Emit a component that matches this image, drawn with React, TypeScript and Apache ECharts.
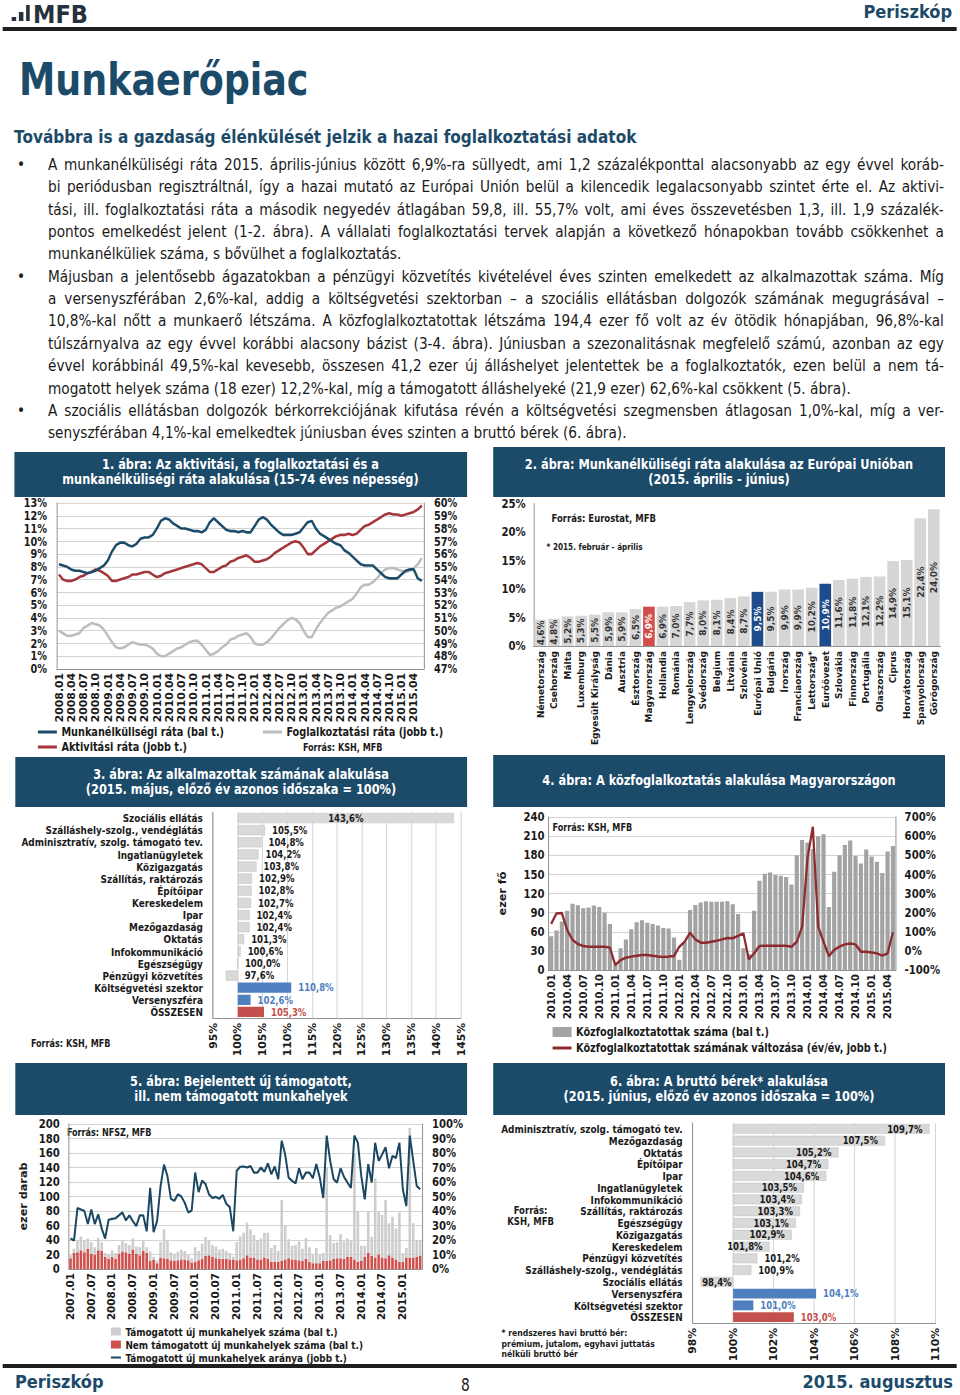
import React, { useEffect, useRef } from 'react';
import * as echarts from 'echarts';

// ---------------- data ----------------
// Chart 1: monthly, 2008.01 - 2015.06 (3-month averages, %)
const UNEMPLOYMENT = [
  8.2, 8.1, 8.0, 7.8, 7.7, 7.7, 7.6, 7.5, 7.6, 7.7,
  7.9, 8.1, 8.5, 9.2, 9.7, 9.9, 9.9, 9.7, 9.6, 9.8,
  10.2, 10.3, 10.3, 10.5, 11.0, 11.6, 11.8, 11.7, 11.4, 11.2,
  11.0, 11.0, 10.9, 10.8, 10.8, 10.7, 10.9, 11.5, 11.8, 11.5,
  11.2, 10.9, 10.8, 10.8, 10.7, 10.8, 10.7, 10.7, 11.2, 11.7,
  11.9, 11.7, 11.3, 11.0, 10.7, 10.5, 10.5, 10.5, 10.6, 10.7,
  11.1, 11.5, 11.6, 11.0, 10.6, 10.4, 10.2, 10.0, 9.8, 9.7,
  9.3, 9.1, 8.8, 8.5, 8.2, 8.1, 8.1, 8.1, 7.8, 7.5,
  7.2, 7.1, 7.1, 7.1, 7.4, 7.7, 7.8, 7.8, 7.1, 6.9,
];
const ACTIVITY = [
  54.4, 54.0, 53.9, 53.9, 54.0, 54.2, 54.3, 54.5, 54.6, 54.8,
  54.7, 54.5, 54.3, 53.9, 53.9, 54.0, 54.1, 54.2, 54.4, 54.4,
  54.5, 54.6, 54.6, 54.4, 54.2, 54.3, 54.5, 54.6, 54.7, 54.8,
  54.9, 55.0, 55.1, 55.2, 55.3, 55.2, 54.9, 54.6, 54.6, 54.8,
  55.0, 55.1, 55.4, 55.5, 55.7, 55.8, 55.9, 55.7, 55.4, 55.4,
  55.5, 55.6, 55.8, 56.1, 56.3, 56.5, 56.7, 56.9, 57.0, 56.9,
  56.5, 56.0, 56.0, 56.3, 56.6, 56.8, 57.0, 57.2, 57.4, 57.5,
  57.5, 57.6, 57.5, 57.6, 57.9, 58.2, 58.3, 58.5, 58.7, 58.9,
  59.1, 59.2, 59.1, 59.1, 59.0, 59.1, 59.2, 59.3, 59.5, 59.8,
];
const EMPLOYMENT = [
  50.0, 49.8, 49.6, 49.6, 49.7, 49.8, 50.2, 50.4, 50.6, 50.5,
  50.4, 50.1, 49.6, 49.1, 48.7, 48.6, 48.7, 48.9, 49.1, 49.0,
  48.9, 48.9, 48.8, 48.6, 48.2, 48.0, 48.0, 48.2, 48.4, 48.6,
  48.7, 48.9, 49.1, 49.2, 49.2, 48.9, 48.5, 48.1, 48.2, 48.4,
  48.7, 48.9, 49.3, 49.4, 49.6, 49.7, 49.8, 49.5, 49.0, 48.9,
  48.9, 49.1, 49.4, 49.8, 50.2, 50.5, 50.8, 51.0, 50.9, 50.6,
  50.0, 49.5, 49.5, 50.1, 50.6, 51.0, 51.4, 51.6, 51.8, 51.9,
  52.1, 52.3, 52.5, 52.9, 53.4, 53.6, 53.6, 53.8, 54.1, 54.5,
  54.8, 54.9, 54.9, 54.8, 54.7, 54.6, 54.7, 54.9, 55.2, 55.7,
];

// Chart 2
const EU_COUNTRIES = [
  'Németország', 'Csehország', 'Málta', 'Luxemburg', 'Egyesült Királyság', 'Dánia', 'Ausztria',
  'Észtország', 'Magyarország', 'Hollandia', 'Románia', 'Lengyelország', 'Svédország', 'Belgium',
  'Litvánia', 'Szlovénia', 'Európai Unió', 'Bulgária', 'Írország', 'Franciaország', 'Lettország*',
  'Euróövezet', 'Szlovákia', 'Finnország', 'Portugália', 'Olaszország', 'Ciprus', 'Horvátország',
  'Spanyolország', 'Görögország',
];
const EU_RATES = [
  4.6, 4.8, 5.2, 5.3, 5.5, 5.9, 5.9, 6.5, 6.9, 6.9, 7.0, 7.7, 8.0, 8.1, 8.4,
  8.7, 9.5, 9.5, 9.9, 9.9, 10.2, 10.9, 11.6, 11.8, 12.1, 12.2, 14.9, 15.1, 22.4, 24.0,
];
const EU_RED = ['Magyarország'];
const EU_BLUE = ['Európai Unió', 'Euróövezet'];

// Chart 3
const EMP_SECTORS = [
  'Szociális ellátás', 'Szálláshely-szolg., vendéglátás', 'Adminisztratív, szolg. támogató tev.',
  'Ingatlanügyletek', 'Közigazgatás', 'Szállítás, raktározás', 'Építőipar', 'Kereskedelem', 'Ipar',
  'Mezőgazdaság', 'Oktatás', 'Infokommunikáció', 'Egészségügy', 'Pénzügyi közvetítés',
  'Költségvetési szektor', 'Versenyszféra', 'ÖSSZESEN',
];
const EMP_INDEX = [
  143.6, 105.5, 104.8, 104.2, 103.8, 102.9, 102.8, 102.7, 102.4, 102.4, 101.3, 100.6, 100.0, 97.6,
  110.8, 102.6, 105.3,
];

// Chart 4: monthly 2010.01 - 2015.05
const PW_COUNT = [
  53, 62, 76, 93, 104, 101.5, 97, 98, 101, 99,
  90, 72, 8, 34, 48, 64, 75, 78, 74, 72,
  70, 66, 65, 51, 16, 44, 94, 102, 106, 108,
  107, 107, 107, 108, 103, 88, 34, 25, 93, 140,
  151, 153, 149, 148, 146, 134, 180, 204, 200, 190,
  210, 213, 99, 154, 180, 196, 203, 179, 167, 189,
  178, 170, 152, 186, 194.4,
];
const PW_CHANGE = [
  141, 196, 198, 109, 57, 36, 25, 22, 22, 22,
  22, 17, -74, -48, -36, -30, -25, -22, -22, -25,
  -29, -32, -30, -27, 22, 48, 95, 60, 43, 43,
  48, 53, 60, 67, 66, 78, 92, -44, -13, 25,
  27, 27, 27, 27, 27, 22, 48, 127, 484, 649,
  127, 48, -27, 5, 22, 34, 39, 34, -4, -4,
  -8, -13, -25, -13, 96.8,
];

// Chart 5: monthly 2007.01 - 2015.06 (thousand, %)
const JOBS_SUPPORTED = [
  4, 6, 17, 19, 16, 14, 16, 10, 17, 12, 5, 6,
  9, 8, 12, 15, 13, 12, 15, 10, 11, 14, 8, 13,
  4, 4, 21, 40, 26, 11, 10, 12, 14, 12, 8, 6,
  20, 13, 21, 26, 21, 16, 16, 13, 14, 11, 9, 4,
  25, 32, 35, 45, 39, 31, 27, 29, 34, 36, 19, 23,
  15, 84, 47, 26, 19, 20, 26, 17, 29, 20, 13, 21,
  12, 11, 129, 35, 22, 22, 33, 24, 25, 22, 147, 70,
  21, 15, 58, 26, 109, 60, 59, 80, 44, 56, 43, 68,
  12, 13, 179, 47, 23, 22,
];
const JOBS_UNSUPPORTED = [
  15, 22, 23, 26, 23, 28, 21, 20, 26, 25, 17, 14,
  17, 14, 21, 24, 23, 21, 27, 21, 19, 25, 22, 11,
  13, 8, 16, 15, 14, 12, 11, 12, 13, 13, 12, 9,
  10, 12, 14, 18, 19, 17, 15, 14, 14, 14, 13, 13,
  12, 13, 15, 19, 16, 16, 13, 13, 16, 14, 10, 10,
  10, 11, 13, 15, 13, 13, 12, 11, 14, 10, 8, 8,
  8, 11, 11, 12, 14, 15, 15, 14, 17, 17, 13, 10,
  11, 17, 22, 18, 16, 20, 16, 15, 19, 16, 13, 10,
  10, 16, 16, 16, 17, 18,
];
const JOBS_SUPPORTED_SHARE = [
  21, 19.6, 42, 41, 40, 31, 41, 31, 37.7, 28, 21, 34,
  34.6, 35, 37, 39, 33.5, 37, 33, 29.6, 37, 37, 26, 56,
  25.4, 33, 57, 72, 64, 48.5, 47, 51.5, 50, 45.7, 39, 40.4,
  66.5, 53, 61, 58.5, 51.5, 49, 49.7, 48.5, 51, 45, 42.7, 26,
  67.7, 70.5, 70.7, 70, 71, 66.5, 66.5, 70, 67, 72.8, 65.4, 70.7,
  62, 88.5, 79, 63, 60.8, 59, 69.5, 62, 66.5, 66.5, 62.6, 72.3,
  63, 49, 92, 74.6, 62, 59.6, 69.5, 63.5, 59.6, 56, 92, 87,
  64, 48, 72.3, 59.6, 87, 74.6, 79, 84, 69.5, 78, 76.5, 87,
  55, 43.4, 92, 74.6, 57.3, 55,
];

// Chart 6
const WAGE_SECTORS = [
  'Adminisztratív, szolg. támogató tev.', 'Mezőgazdaság', 'Oktatás', 'Építőipar', 'Ipar',
  'Ingatlanügyletek', 'Infokommunikáció', 'Szállítás, raktározás', 'Egészségügy', 'Közigazgatás',
  'Kereskedelem', 'Pénzügyi közvetítés', 'Szálláshely-szolg., vendéglátás', 'Szociális ellátás',
  'Versenyszféra', 'Költségvetési szektor', 'ÖSSZESEN',
];
const WAGE_INDEX = [
  109.7, 107.5, 105.2, 104.7, 104.6, 103.5, 103.4, 103.3, 103.1, 102.9, 101.8, 101.2, 100.9, 98.4,
  104.1, 101.0, 103.0,
];

const SECTOR_BLUE = ['Költségvetési szektor', 'Versenyszféra'];
const SECTOR_RED = ['ÖSSZESEN'];

function months(y0: number, m0: number, n: number): string[] {
  const out: string[] = [];
  for (let i = 0; i < n; i++) {
    const t = m0 - 1 + i;
    out.push(`${y0 + Math.floor(t / 12)}.${String((t % 12) + 1).padStart(2, '0')}`);
  }
  return out;
}
const MONTHS_1 = months(2008, 1, UNEMPLOYMENT.length);
const MONTHS_4 = months(2010, 1, PW_COUNT.length);
const MONTHS_5 = months(2007, 1, JOBS_SUPPORTED.length);

// ---------------- styling helpers ----------------
const S = 0.9; // horizontal squeeze of the whole page
const P = (v: number) => v / S;
const FONT = "'DejaVu Sans Condensed', 'DejaVu Sans', sans-serif";
const FONT_WIDE = "'DejaVu Sans', sans-serif";
const INK = '#1a1a1a';
const NAVY = '#1c4a69';
const AXIS = '#8c8c8c';
const GRIDC = '#d2d2d2';
const BAR_BLUE = '#4f7fbf';
const BAR_RED = '#c4504d';

const lab = (size: number, extra: any = {}) => ({
  fontFamily: FONT, fontWeight: 'bold', fontSize: size, color: INK, ...extra,
});
const pct = (v: number) => v.toFixed(1).replace('.', ',') + '%';
const gtext = (x: number, y: number, text: string, size: number, align = 'left') => ({
  type: 'text', x, y, silent: true,
  style: { text, fill: INK, fontFamily: FONT, fontWeight: 'bold', fontSize: size, align, verticalAlign: 'middle' },
});
const valueLabel = (extra: any = {}) =>
  lab(12.5, { showMinLabel: true, showMaxLabel: true, hideOverlap: false, ...extra });

// ---------------- chart options ----------------
const N_U = 'Munkanélküliségi ráta (bal t.)';
const N_A = 'Aktivitási ráta (jobb t.)';
const N_E = 'Foglalkoztatási ráta (jobb t.)';

const lineLegend = (names: string[], left: number, top: number, size = 12) => ({
  data: names, orient: 'vertical', left, top, padding: 0, itemGap: 1,
  itemWidth: P(19), itemHeight: 3, icon: 'rect', textStyle: lab(size, { lineHeight: 14 }),
});

const opt1 = {
  animation: false,
  grid: { left: P(47), top: 6, width: P(367), height: 166 },
  legend: [lineLegend([N_U, N_A], P(28), 228), lineLegend([N_E], P(253), 228)],
  xAxis: {
    type: 'category', data: MONTHS_1,
    axisLabel: lab(12, { rotate: 90, interval: 2, margin: 4 }),
    axisTick: { show: false }, axisLine: { lineStyle: { color: AXIS } },
  },
  yAxis: [
    { type: 'value', min: 0, max: 13, interval: 1,
      axisLabel: valueLabel({ formatter: '{value}%', margin: P(10), fontSize: 12, lineHeight: 10 }),
      splitLine: { lineStyle: { color: GRIDC } }, axisLine: { show: true, lineStyle: { color: AXIS } } },
    { type: 'value', min: 47, max: 60, interval: 1, position: 'right',
      axisLabel: valueLabel({ formatter: '{value}%', margin: P(10), fontSize: 12, lineHeight: 10 }),
      splitLine: { show: false }, axisLine: { show: true, lineStyle: { color: AXIS } } },
  ],
  series: [
    { name: N_E, type: 'line', yAxisIndex: 1, data: EMPLOYMENT, symbol: 'none',
      lineStyle: { color: '#bdbdbd', width: 2.6 }, itemStyle: { color: '#bdbdbd' } },
    { name: N_A, type: 'line', yAxisIndex: 1, data: ACTIVITY, symbol: 'none',
      lineStyle: { color: '#a3363a', width: 2.6 }, itemStyle: { color: '#a3363a' } },
    { name: N_U, type: 'line', yAxisIndex: 0, data: UNEMPLOYMENT, symbol: 'none',
      lineStyle: { color: '#1d4c6b', width: 2.6 }, itemStyle: { color: '#1d4c6b' } },
  ],
  graphic: [gtext(P(293), 250, 'Forrás: KSH, MFB', 10)],
};

const opt2 = {
  animation: false,
  grid: { left: P(44), top: 6, width: P(407), height: 143 },
  xAxis: {
    type: 'category', data: EU_COUNTRIES,
    axisLabel: lab(10, { rotate: 90, interval: 0, margin: 5 }),
    axisTick: { show: false }, axisLine: { lineStyle: { color: AXIS } },
  },
  yAxis: {
    type: 'value', min: 0, max: 25, interval: 5,
    axisLabel: valueLabel({ formatter: '{value}%', margin: P(8) }),
    splitLine: { show: false }, axisLine: { show: true, lineStyle: { color: AXIS } },
  },
  series: [{
    type: 'bar', barCategoryGap: '14%',
    data: EU_RATES.map((v, i) => {
      const name = EU_COUNTRIES[i];
      const c = EU_RED.includes(name) ? '#d24e4a' : EU_BLUE.includes(name) ? '#1f4c8a' : '#d6d6d6';
      const lc = c === '#d6d6d6' ? '#333333' : '#ffffff';
      return { value: v, itemStyle: { color: c }, label: { color: lc } };
    }),
    label: { show: true, position: 'inside', rotate: 90, formatter: (p: any) => pct(p.value), ...lab(10) },
  }],
  graphic: [
    gtext(P(62), 21, 'Forrás: Eurostat, MFB', 10.5),
    gtext(P(57), 50, '* 2015. február - április', 9),
  ],
};

function sectorBars(names: string[], values: number[], labelPos: (v: number, colored: boolean) => string) {
  const col = (n: string) => (SECTOR_BLUE.includes(n) ? BAR_BLUE : SECTOR_RED.includes(n) ? BAR_RED : '#d9d9d9');
  return [
    { type: 'bar', stack: 't', silent: true, barCategoryGap: '16%',
      data: values.map((v) => Math.min(v, 100)), itemStyle: { color: 'rgba(0,0,0,0)' } },
    { type: 'bar', stack: 't', barCategoryGap: '16%',
      data: values.map((v, i) => {
        const c = col(names[i]);
        const colored = c !== '#d9d9d9';
        return {
          value: Math.abs(v - 100),
          itemStyle: colored ? { color: c } : { color: c, borderColor: '#c2c2c2', borderWidth: 0.6 },
          label: { position: labelPos(v, colored), color: colored ? c : INK },
        };
      }),
      label: { show: true, distance: P(7), formatter: (p: any) => pct(values[p.dataIndex]), ...lab(10.5) } },
  ];
}

const sectorYAxis = (names: string[]) => ({
  type: 'category', data: names, inverse: true,
  axisLabel: lab(11, { margin: P(10), interval: 0 }), axisTick: { show: false },
  axisLine: { show: true, lineStyle: { color: AXIS } },
});

const opt3 = {
  animation: false,
  grid: { left: P(203), top: 5, width: P(248), height: 206 },
  xAxis: {
    type: 'value', min: 95, max: 145, interval: 5,
    axisLabel: lab(12, { rotate: 90, formatter: '{value}%', margin: 5, showMinLabel: true, showMaxLabel: true }),
    splitLine: { lineStyle: { color: GRIDC } }, axisLine: { show: true, lineStyle: { color: AXIS } },
    axisTick: { show: false },
  },
  yAxis: sectorYAxis(EMP_SECTORS),
  series: sectorBars(EMP_SECTORS, EMP_INDEX, (v) => (v > 120 ? 'inside' : 'right')),
  graphic: [gtext(P(21), 236, 'Forrás: KSH, MFB', 10)],
};

const N_PW = 'Közfoglalkoztatottak száma (bal t.)';
const N_PWC = 'Közfoglalkoztatottak számának változása (év/év, jobb t.)';
const opt4 = {
  animation: false,
  grid: { left: P(53), top: 10, width: P(353), height: 153 },
  legend: [
    { data: [N_PW], orient: 'vertical', left: P(63), top: 218, padding: 0,
      itemWidth: P(19), itemHeight: 10, icon: 'rect', textStyle: lab(12, { lineHeight: 14 }) },
    { data: [N_PWC], orient: 'vertical', left: P(63), top: 234, padding: 0,
      itemWidth: P(19), itemHeight: 3, icon: 'rect', textStyle: lab(12, { lineHeight: 14 }) },
  ],
  xAxis: {
    type: 'category', data: MONTHS_4,
    axisLabel: lab(11, { rotate: 90, interval: 2, margin: 4 }),
    axisTick: { show: false }, axisLine: { lineStyle: { color: AXIS } },
  },
  yAxis: [
    { type: 'value', min: 0, max: 240, interval: 30,
      name: 'ezer fő', nameLocation: 'middle', nameGap: P(40), nameTextStyle: lab(12.5),
      axisLabel: valueLabel({ margin: P(4) }),
      splitLine: { lineStyle: { color: GRIDC } }, axisLine: { show: true, lineStyle: { color: AXIS } } },
    { type: 'value', min: -100, max: 700, interval: 100, position: 'right',
      axisLabel: valueLabel({ formatter: '{value}%', margin: P(9) }),
      splitLine: { show: false }, axisLine: { show: true, lineStyle: { color: AXIS } } },
  ],
  series: [
    { name: N_PW, type: 'bar', data: PW_COUNT, barCategoryGap: '22%', itemStyle: { color: '#a3a3a3' } },
    { name: N_PWC, type: 'line', yAxisIndex: 1, data: PW_CHANGE, symbol: 'none',
      lineStyle: { color: '#8e2b2f', width: 2.5 }, itemStyle: { color: '#8e2b2f' } },
  ],
  graphic: [gtext(P(63), 20, 'Forrás: KSH, MFB', 10)],
};

const N_S = 'Támogatott új munkahelyek száma (bal t.)';
const N_N = 'Nem támogatott új munkahelyek száma (bal t.)';
const N_R = 'Támogatott új munkahelyek aránya (jobb t.)';
const opt5 = {
  animation: false,
  grid: { left: P(53), top: 9, width: P(359), height: 145 },
  legend: [
    { data: [N_S, N_N], orient: 'vertical', left: P(101), top: 210, padding: 0, itemGap: 0,
      itemWidth: P(10), itemHeight: 8, icon: 'rect', textStyle: lab(11, { lineHeight: 13 }) },
    { data: [N_R], orient: 'vertical', left: P(101), top: 236, padding: 0,
      itemWidth: P(10), itemHeight: 2, icon: 'rect', textStyle: lab(11, { lineHeight: 13 }) },
  ],
  xAxis: {
    type: 'category', data: MONTHS_5,
    axisLabel: lab(11.5, { rotate: 90, interval: 5, margin: 4 }),
    axisTick: { show: false }, axisLine: { lineStyle: { color: AXIS } },
  },
  yAxis: [
    { type: 'value', min: 0, max: 200, interval: 20,
      name: 'ezer darab', nameLocation: 'middle', nameGap: P(40), nameTextStyle: lab(12.5),
      axisLabel: valueLabel({ margin: P(9) }),
      splitLine: { lineStyle: { color: GRIDC } }, axisLine: { show: true, lineStyle: { color: AXIS } } },
    { type: 'value', min: 0, max: 100, interval: 10, position: 'right',
      axisLabel: valueLabel({ formatter: '{value}%', margin: P(10) }),
      splitLine: { show: false }, axisLine: { show: true, lineStyle: { color: AXIS } } },
  ],
  series: [
    { name: N_N, type: 'bar', stack: 'j', data: JOBS_UNSUPPORTED, barCategoryGap: '25%', itemStyle: { color: '#d0504d' } },
    { name: N_S, type: 'bar', stack: 'j', data: JOBS_SUPPORTED, barCategoryGap: '25%', itemStyle: { color: '#cdcdcd' } },
    { name: N_R, type: 'line', yAxisIndex: 1, data: JOBS_SUPPORTED_SHARE, symbol: 'none',
      lineStyle: { color: '#1b4763', width: 2.2 }, itemStyle: { color: '#1b4763' } },
  ],
  graphic: [gtext(P(57), 17, 'Forrás: NFSZ, MFB', 10)],
};

const opt6 = {
  animation: false,
  grid: { left: P(203), top: 8, width: P(243), height: 200 },
  xAxis: {
    type: 'value', min: 98, max: 110, interval: 2,
    axisLabel: lab(12, { rotate: 90, formatter: '{value}%', margin: 5, showMinLabel: true, showMaxLabel: true }),
    splitLine: { lineStyle: { color: GRIDC } }, axisLine: { show: true, lineStyle: { color: AXIS } },
    axisTick: { show: false },
  },
  yAxis: sectorYAxis(WAGE_SECTORS),
  series: sectorBars(WAGE_SECTORS, WAGE_INDEX, (v, colored) =>
    colored ? 'right' : v < 100 ? 'inside' : v >= 101.5 ? 'insideRight' : 'right'),
  graphic: [
    gtext(P(41), 95, 'Forrás:', 10.5, 'center'),
    gtext(P(41), 106, 'KSH, MFB', 10.5, 'center'),
    gtext(P(12), 218, '* rendszeres havi bruttó bér:', 9.5),
    gtext(P(12), 228.5, 'prémium, jutalom, egyhavi juttatás', 9.5),
    gtext(P(12), 239, 'nélküli bruttó bér', 9.5),
  ],
};

// ---------------- components ----------------
function Chart({ x, y, w, h, option }: { x: number; y: number; w: number; h: number; option: any }) {
  const ref = useRef<HTMLDivElement>(null);
  useEffect(() => {
    const c = echarts.init(ref.current as HTMLDivElement, null, { renderer: 'svg' });
    c.setOption(option);
    return () => c.dispose();
  }, []);
  return <div ref={ref} style={{ position: 'absolute', left: P(x), top: y, width: P(w), height: h }} />;
}

function TitleBox({ x, y, w, h, lines, pb = 0 }: { x: number; y: number; w: number; h: number; lines: string[]; pb?: number }) {
  return (
    <div style={{
      position: 'absolute', left: P(x), top: y, width: P(w), height: h, background: NAVY, color: '#fff',
      display: 'flex', flexDirection: 'column', justifyContent: 'center', alignItems: 'center',
      fontWeight: 'bold', fontSize: 14, lineHeight: '15.5px', boxSizing: 'border-box', paddingBottom: pb,
    }}>
      {lines.map((l, i) => <div key={i} style={{ whiteSpace: 'nowrap' }}>{l}</div>)}
    </div>
  );
}

const BODY: [string, boolean][] = [
  ['A munkanélküliségi ráta 2015. április-június között 6,9%-ra süllyedt, ami 1,2 százalékponttal alacsonyabb az egy évvel koráb-', true],
  ['bi periódusban regisztráltnál, így a hazai mutató az Európai Unión belül a kilencedik legalacsonyabb szintet érte el. Az aktivi-', true],
  ['tási, ill. foglalkoztatási ráta a második negyedév átlagában 59,8, ill. 55,7% volt, ami éves összevetésben 1,3, ill. 1,9 százalék-', true],
  ['pontos emelkedést jelent (1-2. ábra). A vállalati foglalkoztatási tervek alapján a következő hónapokban tovább csökkenhet a', true],
  ['munkanélküliek száma, s bővülhet a foglalkoztatás.', false],
  ['Májusban a jelentősebb ágazatokban a pénzügyi közvetítés kivételével éves szinten emelkedett az alkalmazottak száma. Míg', true],
  ['a versenyszférában 2,6%-kal, addig a költségvetési szektorban – a szociális ellátásban dolgozók számának megugrásával –', true],
  ['10,8%-kal nőtt a munkaerő létszáma. A közfoglalkoztatottak létszáma 194,4 ezer fő volt az év ötödik hónapjában, 96,8%-kal', true],
  ['túlszárnyalva az egy évvel korábbi alacsony bázist (3-4. ábra). Júniusban a szezonalitásnak megfelelő számú, azonban az egy', true],
  ['évvel korábbinál 49,5%-kal kevesebb, összesen 41,2 ezer új álláshelyet jelentettek be a foglalkoztatók, ezen belül a nem tá-', true],
  ['mogatott helyek száma (18 ezer) 12,2%-kal, míg a támogatott álláshelyeké (21,9 ezer) 62,6%-kal csökkent (5. ábra).', false],
  ['A szociális ellátásban dolgozók bérkorrekciójának kifutása révén a költségvetési szegmensben átlagosan 1,0%-kal, míg a ver-', true],
  ['senyszférában 4,1%-kal emelkedtek júniusban éves szinten a bruttó bérek (6. ábra).', false],
];
const BULLET_LINES = [0, 5, 11];

export default function App() {
  const lineTop = (k: number) => 154 + 22.35 * k;
  return (
    <>
      <style>{`html,body{margin:0;padding:0;overflow:hidden;background:#fff}`}</style>
      <div style={{
        position: 'absolute', left: 0, top: 0, width: P(960), height: 1395, overflow: 'hidden',
        transform: `scaleX(${S})`, transformOrigin: '0 0', fontFamily: FONT, color: INK, background: '#fff',
      }}>
        {/* header */}
        <div style={{ position: 'absolute', left: P(12), top: 17, width: P(4), height: 4, background: '#27313d' }} />
        <div style={{ position: 'absolute', left: P(19), top: 12, width: P(4), height: 9, background: '#27313d' }} />
        <div style={{ position: 'absolute', left: P(26), top: 5, width: P(4), height: 16, background: '#27313d' }} />
        <div style={{ position: 'absolute', left: P(33), top: 2, fontSize: 25, lineHeight: '25px', fontWeight: 'bold', color: '#27313d', fontFamily: FONT_WIDE }}>MFB</div>
        <div style={{ position: 'absolute', right: P(8), top: 3, fontSize: 18, lineHeight: '18px', fontWeight: 'bold', color: NAVY, fontFamily: FONT_WIDE }}>Periszkóp</div>
        <div style={{ position: 'absolute', left: P(3), top: 27, width: P(954), height: 4, background: '#1e1e1e' }} />

        <div style={{ position: 'absolute', left: P(19), top: 57, fontSize: 45, lineHeight: '45px', fontWeight: 'bold', color: NAVY, whiteSpace: 'nowrap' }}>Munkaerőpiac</div>
        <div style={{ position: 'absolute', left: P(14), top: 127, fontSize: 17, lineHeight: '20px', fontWeight: 'bold', color: NAVY, whiteSpace: 'nowrap', fontFamily: FONT_WIDE }}>
          Továbbra is a gazdaság élénkülését jelzik a hazai foglalkoztatási adatok
        </div>

        {BULLET_LINES.map((k) => (
          <div key={'b' + k} style={{ position: 'absolute', left: P(17), top: lineTop(k), fontSize: 15.2, lineHeight: '22px', fontFamily: FONT_WIDE }}>•</div>
        ))}
        {BODY.map(([t, j], k) => (
          <div key={k} style={{
            position: 'absolute', left: P(48), top: lineTop(k), width: P(896), height: 22, lineHeight: '22px',
            fontSize: 15.2, fontFamily: FONT_WIDE, whiteSpace: 'pre', display: j ? 'flex' : 'block',
            justifyContent: 'space-between',
          }}>
            {j ? t.split(' ').map((w, i) => <span key={i}>{w}</span>) : t}
          </div>
        ))}

        {/* figure titles */}
        <TitleBox x={14} y={452} w={453} h={45} pb={5} lines={['1. ábra: Az aktivitási, a foglalkoztatási és a', 'munkanélküliségi ráta alakulása (15-74 éves népesség)']} />
        <TitleBox x={493} y={447} w={452} h={50} lines={['2. ábra: Munkanélküliségi ráta alakulása az Európai Unióban', '(2015. április - június)']} />
        <TitleBox x={15} y={757} w={452} h={50} lines={['3. ábra: Az alkalmazottak számának alakulása', '(2015. május, előző év azonos időszaka = 100%)']} />
        <TitleBox x={493} y={755} w={452} h={52} lines={['4. ábra: A közfoglalkoztatás alakulása Magyarországon']} />
        <TitleBox x={15} y={1063} w={452} h={52} lines={['5. ábra: Bejelentett új támogatott,', 'ill. nem támogatott munkahelyek']} />
        <TitleBox x={493} y={1063} w={452} h={52} lines={['6. ábra: A bruttó bérek* alakulása', '(2015. június, előző év azonos időszaka = 100%)']} />

        {/* charts */}
        <Chart x={10} y={497} w={470} h={258} option={opt1} />
        <Chart x={490} y={497} w={470} h={258} option={opt2} />
        <Chart x={10} y={807} w={470} h={253} option={opt3} />
        <Chart x={490} y={807} w={470} h={253} option={opt4} />
        <Chart x={10} y={1115} w={470} h={250} option={opt5} />
        <Chart x={490} y={1115} w={470} h={250} option={opt6} />

        {/* footer */}
        <div style={{ position: 'absolute', left: P(3), top: 1364, width: P(954), height: 4, background: '#1e1e1e' }} />
        <div style={{ position: 'absolute', left: P(15), top: 1373, fontSize: 18, lineHeight: '18px', fontWeight: 'bold', color: NAVY, fontFamily: FONT_WIDE }}>Periszkóp</div>
        <div style={{ position: 'absolute', left: P(461), top: 1377, fontSize: 17, lineHeight: '17px', color: INK }}>8</div>
        <div style={{ position: 'absolute', right: P(7), top: 1373, fontSize: 18, lineHeight: '18px', fontWeight: 'bold', color: NAVY, fontFamily: FONT_WIDE }}>2015. augusztus</div>
      </div>
    </>
  );
}
